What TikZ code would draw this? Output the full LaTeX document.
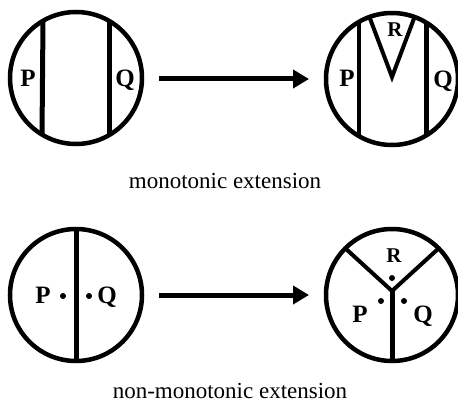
\documentclass[tikz,border=0pt]{standalone}
\usepackage{fontspec}
\setmainfont{Liberation Serif}
\usetikzlibrary{arrows.meta}
\begin{document}
\begin{tikzpicture}[x=1pt,y=-1pt,
  region/.style={circle,draw,line width=4.5pt,minimum size=132pt,inner sep=0pt,outer sep=0pt},
  thickline/.style={line width=5pt},
  thinline/.style={line width=4pt},
  lab/.style={font=\fontsize{25}{29}\selectfont\bfseries,anchor=base,inner sep=0pt},
  rlab/.style={font=\fontsize{21}{25}\selectfont\bfseries,anchor=base,inner sep=0pt},
  captext/.style={font=\fontsize{23}{27}\selectfont,anchor=base,inner sep=0pt},
  dotmark/.style={circle,fill,inner sep=0pt,minimum size=6pt},
  ext/.style={line width=5pt,-{Triangle[length=16pt,width=18pt]}}]
\useasboundingbox (0,0) rectangle (458,404);
% top row
\node[region] (c1) at (76,78) {};
\draw[thickline] (c1.120.5) -- (c1.239.5);
\draw[thickline] (c1.59.5) -- (c1.-59.5);
\node[lab] (p1) at (28,87) {P};
\node[lab] (q1) at (125,87) {Q};
\node[region] (c2) at (392,79) {};
\draw[thinline] (c2.120) -- (c2.240);
\draw[thickline] (c2.58) -- (c2.-58);
\coordinate (v2) at (392,77);
\draw[thinline,line join=miter] (c2.110) -- (v2) -- (c2.70);
\node[rlab] (r2) at (395,37) {R};
\node[lab] (p2) at (347,87) {P};
\node[lab] (q2) at (443,88) {Q};
\coordinate (a1s) at (159,79);
\coordinate (a1e) at (309,79);
\draw[ext] (a1s) -- (a1e);
\node[captext] (t1) at (225,188) {monotonic extension};
% bottom row
\node[region] (c3) at (76,295) {};
\draw[thickline] (c3.90) -- (c3.270);
\node[lab] (p3) at (43,303) {P};
\node[dotmark] (d3a) at (63,296) {};
\node[dotmark] (d3b) at (89,296) {};
\node[lab] (q3) at (107,303) {Q};
\node[region] (c4) at (392,295) {};
\coordinate (j4) at (392,291);
\draw[thinline,line join=miter] (c4.135) -- (j4) -- (c4.45);
\draw[thickline] (j4) -- (c4.270);
\node[rlab] (r4) at (394,262) {R};
\node[dotmark] (d4r) at (392,278) {};
\node[lab] (p4) at (360,322) {P};
\node[dotmark] (d4p) at (381,301) {};
\node[lab] (q4) at (423,322) {Q};
\node[dotmark] (d4q) at (404,301) {};
\coordinate (a2s) at (159,295);
\coordinate (a2e) at (309,295);
\draw[ext] (a2s) -- (a2e);
\node[captext] (t2) at (230,398) {non-monotonic extension};
\end{tikzpicture}
\end{document}
